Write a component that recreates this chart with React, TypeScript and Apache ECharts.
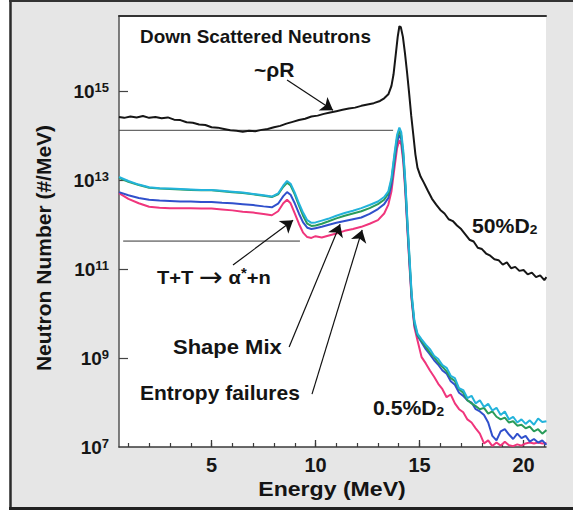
import React, { useEffect, useRef } from 'react';
import * as echarts from 'echarts';

const FONT = "'Liberation Sans', Arial, Helvetica, sans-serif";

// Axis extents: energy (MeV) and log10 of neutron number (#/MeV)
const xMin = 0.55;
const xMax = 21.08;
const yMin = 7;
const yMax = 16.69;
const xLabelValues = [5, 10, 15, 20];
const xMinorTickValues = [1, 2, 3, 4, 5, 6, 7, 8, 9, 10, 11, 12, 13, 14, 15, 16, 17, 18, 19, 20, 21];
const yLabelExponents = [7, 9, 11, 13, 15];
const yTickExponents = [9, 11, 13, 15];

// 50% D2 spectrum (black)
const energy50 = [0.55, 0.8, 1.1, 1.4, 1.7, 2.0, 2.3, 2.6, 2.9, 3.2, 3.5, 3.8, 4.1, 4.4, 4.7, 5.0, 5.3, 5.6, 5.9, 6.2, 6.5, 6.8, 7.1, 7.4, 7.7, 8.0, 8.3, 8.6, 8.9, 9.2, 9.5, 9.8, 10.1, 10.4, 10.7, 11.0, 11.3, 11.6, 11.9, 12.2, 12.5, 12.8, 13.1, 13.3, 13.5, 13.65, 13.75, 13.85, 13.95, 14.03, 14.1, 14.2, 14.3, 14.4, 14.5, 14.6, 14.7, 14.8, 14.9, 15.05, 15.2, 15.4, 15.6, 15.8, 16.0, 16.2, 16.4, 16.6, 16.8, 17.0, 17.2, 17.4, 17.6, 17.8, 18.0, 18.2, 18.4, 18.6, 18.8, 19.0, 19.2, 19.4, 19.6, 19.8, 20.0, 20.2, 20.4, 20.6, 20.8, 21.0, 21.1];
const logN50 = [14.42, 14.40, 14.43, 14.41, 14.44, 14.40, 14.42, 14.39, 14.41, 14.36, 14.35, 14.30, 14.29, 14.25, 14.24, 14.19, 14.18, 14.15, 14.12, 14.11, 14.09, 14.11, 14.10, 14.13, 14.15, 14.19, 14.22, 14.27, 14.31, 14.35, 14.38, 14.43, 14.45, 14.49, 14.52, 14.55, 14.58, 14.61, 14.63, 14.67, 14.70, 14.73, 14.78, 14.84, 14.93, 15.12, 15.38, 15.80, 16.22, 16.46, 16.44, 16.22, 15.85, 15.42, 14.95, 14.45, 14.02, 13.58, 13.28, 13.08, 12.95, 12.76, 12.58, 12.45, 12.33, 12.25, 12.12, 12.08, 11.98, 11.90, 11.78, 11.66, 11.62, 11.48, 11.45, 11.35, 11.30, 11.22, 11.20, 11.10, 11.15, 11.02, 11.05, 10.96, 10.98, 10.88, 10.92, 10.82, 10.86, 10.75, 10.82];

// 0.5% D2 spectra (four simulations)
const energy05 = [0.55, 1.0, 1.5, 2.0, 2.5, 3.0, 3.5, 4.0, 4.5, 5.0, 5.5, 6.0, 6.5, 7.0, 7.5, 7.9, 8.2, 8.45, 8.63, 8.8, 9.0, 9.2, 9.4, 9.6, 9.8, 10.0, 10.3, 10.6, 11.0, 11.4, 11.8, 12.2, 12.6, 13.0, 13.3, 13.5, 13.65, 13.8, 13.92, 14.03, 14.12, 14.22, 14.32, 14.42, 14.52, 14.62, 14.75, 14.9, 15.1, 15.3, 15.5, 15.7, 15.9, 16.1, 16.3, 16.5, 16.7, 16.9, 17.1, 17.3, 17.5, 17.7, 17.9, 18.1, 18.3, 18.5, 18.7, 18.9, 19.1, 19.3, 19.5, 19.7, 19.9, 20.1, 20.3, 20.5, 20.7, 20.9, 21.1];
const logNCyan = [13.07, 12.98, 12.90, 12.84, 12.82, 12.81, 12.80, 12.79, 12.78, 12.78, 12.76, 12.74, 12.72, 12.69, 12.66, 12.63, 12.70, 12.88, 12.98, 12.92, 12.72, 12.48, 12.27, 12.10, 12.04, 12.05, 12.09, 12.13, 12.20, 12.26, 12.31, 12.37, 12.44, 12.52, 12.62, 12.75, 13.05, 13.62, 14.02, 14.18, 14.08, 13.65, 12.95, 12.05, 11.25, 10.45, 9.85, 9.55, 9.42, 9.30, 9.20, 9.05, 8.98, 8.84, 8.78, 8.60, 8.55, 8.32, 8.28, 8.10, 8.15, 7.98, 8.05, 7.90, 7.97, 7.82, 7.88, 7.72, 7.80, 7.62, 7.68, 7.55, 7.62, 7.52, 7.60, 7.50, 7.64, 7.56, 7.58];
const logNGreen = [13.05, 12.96, 12.89, 12.83, 12.81, 12.80, 12.79, 12.78, 12.77, 12.77, 12.75, 12.73, 12.71, 12.68, 12.65, 12.62, 12.68, 12.85, 12.94, 12.88, 12.68, 12.43, 12.20, 12.02, 11.97, 11.98, 12.02, 12.07, 12.14, 12.20, 12.25, 12.30, 12.37, 12.46, 12.56, 12.70, 13.00, 13.55, 13.95, 14.10, 14.00, 13.58, 12.88, 12.00, 11.20, 10.40, 9.80, 9.52, 9.38, 9.25, 9.12, 9.02, 8.90, 8.80, 8.70, 8.55, 8.48, 8.30, 8.22, 8.05, 7.98, 7.92, 7.85, 7.88, 7.75, 7.80, 7.68, 7.62, 7.66, 7.55, 7.58, 7.48, 7.50, 7.42, 7.46, 7.35, 7.40, 7.30, 7.38];
const logNBlue = [12.73, 12.66, 12.60, 12.56, 12.54, 12.53, 12.52, 12.52, 12.51, 12.51, 12.49, 12.48, 12.46, 12.44, 12.41, 12.39, 12.47, 12.64, 12.73, 12.67, 12.48, 12.25, 12.05, 11.93, 11.90, 11.92, 11.95, 11.99, 12.04, 12.08, 12.12, 12.16, 12.24, 12.35, 12.46, 12.60, 12.90, 13.45, 13.85, 14.02, 13.92, 13.50, 12.80, 11.92, 11.12, 10.35, 9.75, 9.50, 9.35, 9.20, 9.08, 8.95, 8.85, 8.72, 8.65, 8.48, 8.40, 8.22, 8.15, 8.05, 8.00, 7.85, 7.80, 7.72, 7.55, 7.25, 7.15, 7.35, 7.40, 7.28, 7.18, 7.30, 7.20, 7.25, 7.12, 7.18, 7.10, 7.15, 7.05];
const logNPink = [12.71, 12.58, 12.48, 12.40, 12.38, 12.37, 12.37, 12.37, 12.36, 12.36, 12.34, 12.32, 12.29, 12.27, 12.24, 12.21, 12.30, 12.48, 12.56, 12.48, 12.25, 12.02, 11.82, 11.72, 11.70, 11.74, 11.71, 11.75, 11.80, 11.86, 11.90, 11.95, 12.02, 12.10, 12.25, 12.45, 12.75, 13.30, 13.72, 13.90, 13.80, 13.40, 12.70, 11.85, 11.05, 10.30, 9.70, 9.40, 9.02, 8.88, 8.72, 8.58, 8.42, 8.30, 8.12, 8.18, 7.98, 7.85, 7.78, 7.62, 7.55, 7.42, 7.30, 7.08, 7.15, 7.02, 7.10, 7.03, 7.12, 7.04, 7.02, 7.06, 7.03, 7.08, 7.10, 7.08, 7.10, 7.08, 7.09];

// Horizontal reference levels [energy start, energy end, log10 N]
const refUpper = [0.55, 13.73, 14.12];
const refLower = [0.75, 9.25, 11.63];

// Annotation arrows: [tailE, tailLogN, headE, headLogN]
const arrowRhoR = [8.63, 15.25, 10.84, 14.57];
const arrowTT = [6.03, 11.09, 8.92, 12.10];
const arrowShape = [8.73, 9.25, 11.18, 12.01];
const arrowEntropy = [9.83, 8.19, 12.24, 11.88];

const zip = (xs: number[], ys: number[]) => xs.map((x, i) => [x, ys[i]]);

const arrowItem = (a: number[]) => [
  { coord: [a[0], a[1]], symbol: 'none' },
  { coord: [a[2], a[3]], symbol: 'arrow' },
];

const lineSeries = (name: string, data: number[][], color: string, width: number, extra: any = {}) => ({
  type: 'line',
  name,
  data,
  symbol: 'none',
  showSymbol: false,
  lineStyle: { color, width },
  itemStyle: { color },
  silent: true,
  ...extra,
});

const txt = (text: string, x: number, y: number, size: number, sx = 1, extra: any = {}) => ({
  type: 'text',
  x,
  y,
  scaleX: sx,
  silent: true,
  z: 50,
  style: {
    text,
    fontFamily: FONT,
    fontSize: size,
    fontWeight: 'bold',
    fill: '#141414',
    align: 'left',
    verticalAlign: 'middle',
    rich: {
      sub: { fontFamily: FONT, fontSize: 13, fontWeight: 'bold', fill: '#141414', verticalAlign: 'bottom', lineHeight: 12 },
      sup: { fontFamily: FONT, fontSize: 14, fontWeight: 'bold', fill: '#141414', verticalAlign: 'top', lineHeight: 12 },
      arr: { fontFamily: "'DejaVu Sans', sans-serif", fontSize: 27, fontWeight: 'normal', fill: '#141414', lineHeight: 22 },
    },
    ...extra,
  },
});

export default function App() {
  const ref = useRef<HTMLDivElement>(null);
  useEffect(() => {
    if (!ref.current) return;
    const chart = echarts.init(ref.current, undefined, { renderer: 'svg' });
    const option: any = {
      animation: false,
      backgroundColor: '#e6e6e6',
      grid: { left: 119, top: 16, right: 27, bottom: 63, show: true, backgroundColor: '#ffffff', borderWidth: 0 },
      xAxis: [
        {
          type: 'value', min: xMin, max: xMax, position: 'bottom',
          splitLine: { show: false },
          axisLine: { show: true, lineStyle: { color: '#3a3a3a', width: 1.5 } },
          axisTick: { show: true, inside: true, length: 7, customValues: xLabelValues, lineStyle: { color: '#3a3a3a', width: 1.3 } },
          axisLabel: { customValues: xLabelValues, margin: 8, fontFamily: FONT, fontSize: 20, fontWeight: 'bold', color: '#161616' },
        },
        {
          type: 'value', min: xMin, max: xMax, position: 'bottom',
          splitLine: { show: false },
          axisLine: { show: false },
          axisTick: { show: true, inside: true, length: 4, customValues: xMinorTickValues, lineStyle: { color: '#3a3a3a', width: 1.2 } },
          axisLabel: { show: false },
        },
        {
          type: 'value', min: xMin, max: xMax, position: 'top',
          splitLine: { show: false },
          axisLine: { show: true, lineStyle: { color: '#333', width: 2 } },
          axisTick: { show: false },
          axisLabel: { show: false },
        },
      ],
      yAxis: {
        type: 'value', min: yMin, max: yMax,
        splitLine: { show: false },
        axisLine: { show: true, lineStyle: { color: '#555', width: 1.5 } },
        axisTick: { show: true, inside: true, length: 9, customValues: yTickExponents, lineStyle: { color: '#444', width: 1.2 } },
        axisLabel: {
          customValues: yLabelExponents,
          margin: 10,
          formatter: (v: number) => `{b|10}{s|${Math.round(v)}}`,
          rich: {
            b: { fontFamily: FONT, fontSize: 19, fontWeight: 'bold', color: '#161616', lineHeight: 20 },
            s: { fontFamily: FONT, fontSize: 13, fontWeight: 'bold', color: '#161616', verticalAlign: 'top', lineHeight: 12 },
          },
        },
      },
      series: [
        lineSeries('ref upper', [[refUpper[0], refUpper[2]], [refUpper[1], refUpper[2]]], '#444', 1),
        lineSeries('ref lower', [[refLower[0], refLower[2]], [refLower[1], refLower[2]]], '#333', 1),
        lineSeries('Entropy failures', zip(energy05, logNPink), '#f0357c', 2),
        lineSeries('Shape Mix', zip(energy05, logNBlue), '#3050cc', 2),
        lineSeries('green', zip(energy05, logNGreen), '#2a9c5a', 2),
        lineSeries('cyan', zip(energy05, logNCyan), '#23b3db', 2),
        lineSeries('50%D2', zip(energy50, logN50), '#161616', 2, {
          markLine: {
            silent: true,
            symbolSize: 12,
            label: { show: false },
            lineStyle: { color: '#111', width: 1.2, type: 'solid' },
            data: [arrowItem(arrowRhoR), arrowItem(arrowTT), arrowItem(arrowShape), arrowItem(arrowEntropy)],
          },
        }),
      ],
      graphic: [
        { type: 'rect', silent: true, shape: { x: 0, y: 0, width: 9.5, height: 510 }, style: { fill: '#ffffff' } },
        { type: 'line', silent: true, shape: { x1: 10.5, y1: 0, x2: 10.5, y2: 510 }, style: { stroke: '#2b2b2b', lineWidth: 2.5 } },
        { type: 'line', silent: true, shape: { x1: 9, y1: 508.5, x2: 573, y2: 508.5 }, style: { stroke: '#222', lineWidth: 3 } },
        { type: 'line', silent: true, shape: { x1: 9, y1: 1, x2: 573, y2: 1 }, style: { stroke: '#333', lineWidth: 2 } },
        txt('Down Scattered Neutrons', 140, 37, 17.5, 1.08),
        txt('~ρR', 254, 70, 20, 1.05),
        txt('50%D{sub|2}', 472, 226, 20, 1.06),
        txt('T+T {arr|→} α{sup|*}+n', 157, 277, 19, 1.06),
        txt('Shape Mix', 173, 347, 20, 1.1),
        txt('Entropy failures', 140, 393, 20, 1.05),
        txt('0.5%D{sub|2}', 373, 408, 20, 1.06),
        txt('Energy (MeV)', 332, 489, 21, 1.1, { align: 'center' }),
        { ...txt('Neutron Number (#/MeV)', 43, 248, 21, 1, { align: 'center' }), rotation: Math.PI / 2 },
      ],
    };
    chart.setOption(option);
    return () => chart.dispose();
  }, []);
  return (
    <div style={{ position: 'fixed', left: 0, top: 0, width: 573, height: 510, background: '#fff' }}>
      <div ref={ref} style={{ width: 573, height: 510 }} />
    </div>
  );
}
